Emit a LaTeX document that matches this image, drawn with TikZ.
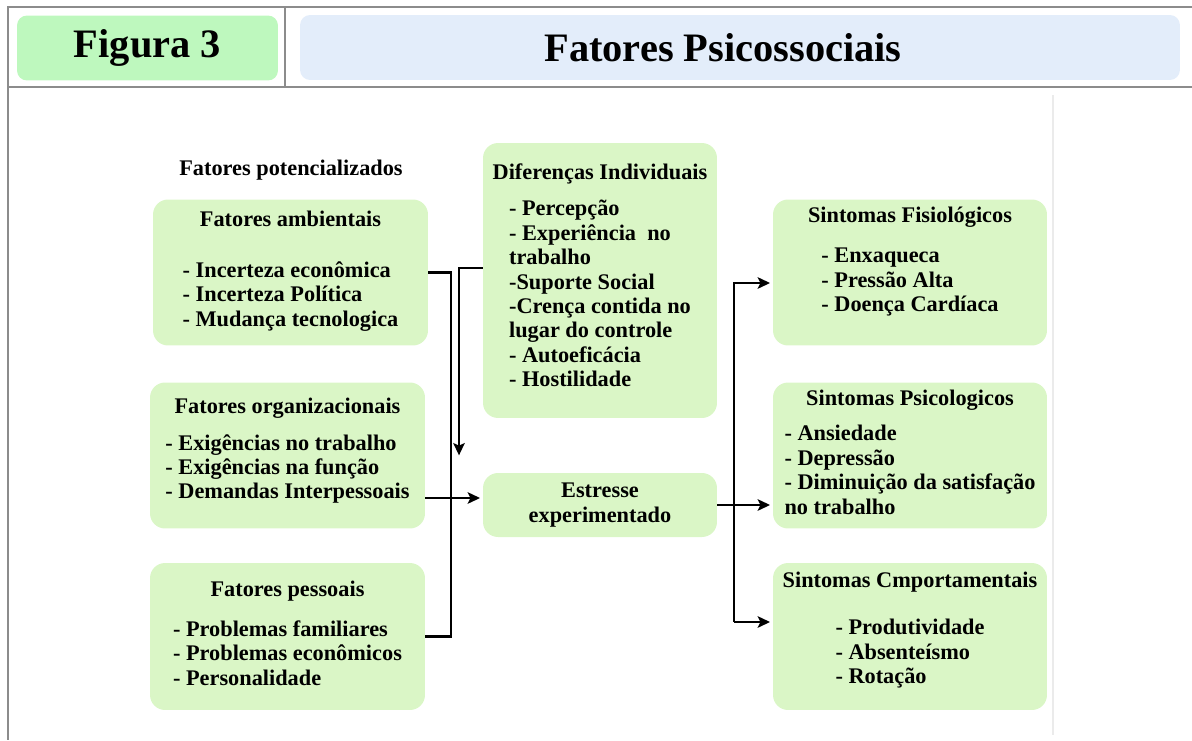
\documentclass[tikz,border=0pt]{standalone}
\usepackage{fontspec}
\setmainfont{Liberation Serif}
\usetikzlibrary{arrows.meta}
\definecolor{boxgreen}{RGB}{218,246,198}
\definecolor{figgreen}{RGB}{190,248,190}
\definecolor{ttlblue}{RGB}{227,237,250}
\definecolor{framegray}{RGB}{140,140,140}
\begin{document}
\begin{tikzpicture}[
    x=0.02cm, y=-0.02cm,
    every node/.style={inner sep=2pt, font=\fontsize{12.7}{13.9}\selectfont\bfseries},
    box/.style={fill=boxgreen, rounded corners=0.3cm, align=center},
    sidebox/.style={box, minimum width=5.5cm, minimum height=2.92cm},
    hdr/.style={rounded corners=0.2cm, minimum height=1.3cm, font=\fontsize{23}{26}\selectfont\bfseries},
    frame/.style={draw=framegray, line width=1.2pt},
    link/.style={draw, line width=1.5pt},
    arrow/.style={link, shorten >=1.5pt, -{Stealth[length=7pt, width=6.5pt, inset=1.5pt]}}
]
\useasboundingbox (0,0) rectangle (1192,740);
\draw[frame] (1192,7) -- (8,7) -- (8,740);
\draw[frame] (8,87) -- (1192,87);
\draw[frame] (285,7) -- (285,87);
\draw[black!8, line width=0.8pt] (1053,95) -- (1053,735);

\node[hdr, fill=figgreen, minimum width=5.22cm] (fig) at (147.5,48) {Figura 3};
\node[hdr, fill=ttlblue, minimum width=17.6cm] (ttlbox) at (740,47.5) {};
\node[hdr] (ttl) at (723,47.5) {Fatores Psicossociais};

\node (pot) at (291,170) {Fatores potencializados};
\node[sidebox] (amb) at (290.5,272.5) {Fatores ambientais\\[15pt]
    \begin{tabular}[t]{@{}l@{}}- Incerteza econômica\\- Incerteza Política\\- Mudança tecnologica\end{tabular}};
\node[sidebox] (org) at (287.5,455.5) {Fatores organizacionais\\[7pt]
    \begin{tabular}[t]{@{}l@{}}- Exigências no trabalho\\- Exigências na função\\- Demandas Interpessoais\\[4pt]\end{tabular}};
\node[sidebox, minimum height=2.94cm] (pes) at (287.5,636.5) {Fatores pessoais\\[9pt]
    \begin{tabular}[t]{@{}l@{}}- Problemas familiares\\- Problemas econômicos\\- Personalidade\end{tabular}};

\node[box, minimum width=4.68cm, minimum height=5.5cm] (dif) at (600,280.5) {Diferenças Individuais\\[7pt]
    \begin{tabular}[t]{@{}l@{}}- Percepção\\- Experiência \ no\\trabalho\\-Suporte Social\\-Crença contida no\\lugar do controle\\- Autoeficácia\\- Hostilidade\\[2pt]\end{tabular}};
\node[box, minimum width=4.68cm, minimum height=1.28cm] (str) at (600,505) {Estresse\\experimentado};

\node[sidebox, minimum width=5.48cm] (fis) at (910,272.5) {Sintomas Fisiológicos\\[9pt]
    \begin{tabular}[t]{@{}l@{}}- Enxaqueca\\- Pressão Alta\\- Doença Cardíaca\\[11pt]\end{tabular}};
\node[sidebox, minimum width=5.48cm] (psi) at (910,455.5) {Sintomas Psicologicos\\[6.5pt]
    \begin{tabular}[t]{@{}l@{}}- Ansiedade\\- Depressão\\- Diminuição da satisfação\\no trabalho\end{tabular}};
\node[sidebox, minimum width=5.48cm, minimum height=2.94cm] (cmp) at (910,636.5) {Sintomas Cmportamentais\\[13pt]
    \begin{tabular}[t]{@{}l@{}}- Produtividade\\- Absenteísmo\\- Rotação\\[5.5pt]\end{tabular}};

\coordinate (lbus) at (451,450);
\coordinate (dtip) at (459,458);
\coordinate (sin) at ([yshift=0.14cm]str.west);
\coordinate (rtop) at (734,283);
\coordinate (rbot) at (734,622);

\draw[link] (amb.east) -| (lbus) |- (pes.east);
\draw[arrow] ([yshift=0.25cm]dif.west) -| (dtip);
\draw[arrow] (sin -| org.east) -- (sin);
\draw[arrow] (str.east) -- (str.east -| psi.west);
\draw[arrow] (rbot) |- (rtop -| fis.west);
\draw[arrow] (rbot) -- (rbot -| cmp.west);
\end{tikzpicture}
\end{document}
